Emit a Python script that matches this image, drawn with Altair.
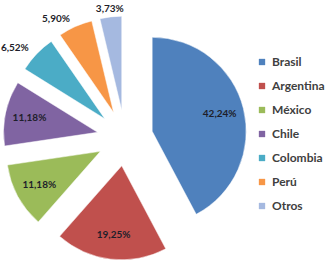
import math
import altair as alt
import pandas as pd

paises = ["Brasil", "Argentina", "México", "Chile", "Colombia", "Perú", "Otros"]
porcentajes = [42.24, 19.25, 11.18, 11.18, 6.52, 5.90, 3.73]
colores = ["#4F81BD", "#C0504D", "#9BBB59", "#8064A2", "#4BACC6", "#F79646", "#A5B9E0"]

df = pd.DataFrame({"pais": paises, "pct": porcentajes, "orden": list(range(len(paises)))})

CX, CY, D, R = 125, 138, 28, 94
FONT = "Lato"

base = alt.Chart(df).transform_window(
    end="sum(pct)", sort=[alt.SortField("orden")], frame=[None, 0]
).transform_calculate(
    start="datum.end - datum.pct",
).transform_calculate(
    mid="(datum.start + datum.end) / 200 * 2 * PI",
).transform_calculate(
    cx=f"{CX} + {D} * sin(datum.mid)",
    cy=f"{CY} - {D} * cos(datum.mid)",
    lr=f"datum.pct < 10 ? {R + 8} : {R * 0.74}",
    shift="datum.pct < 10 && sin(datum.mid) < -0.3 ? -16 : 0",
    label="replace(format(datum.pct, '.2f'), '.', ',') + '%'",
).transform_calculate(
    lx="datum.cx + datum.lr * sin(datum.mid) + datum.shift",
    ly="datum.cy - datum.lr * cos(datum.mid)",
)

arcs = base.mark_arc(outerRadius=R, stroke="white", strokeWidth=0.5).encode(
    theta=alt.Theta("start:Q", scale=alt.Scale(domain=[0, 100], range=[0, 2 * math.pi]), stack=None),
    theta2="end:Q",
    x=alt.X("cx:Q", scale=None),
    y=alt.Y("cy:Q", scale=None),
    color=alt.Color(
        "pais:N",
        scale=alt.Scale(domain=paises, range=colores),
        sort=paises,
        legend=alt.Legend(
            title=None,
            orient="none",
            legendX=256,
            legendY=56,
            symbolType="square",
            symbolSize=40,
            symbolStrokeWidth=0,
            labelFont=FONT,
            labelFontSize=12,
            labelFontWeight="bold",
            labelColor="#404040",
            rowPadding=12,
            labelOffset=4,
        ),
    ),
    order=alt.Order("orden:Q"),
)

labels = base.mark_text(font=FONT, fontSize=10, fontWeight="bold", color="#1E1E2A").encode(
    x=alt.X("lx:Q", scale=None),
    y=alt.Y("ly:Q", scale=None),
    text="label:N",
)

chart = alt.layer(arcs, labels).properties(
    width=328, height=263, padding=0, autosize=alt.AutoSizeParams(type="none"),
    background="white",
).configure_view(stroke=None)

chart.save("out.html", embed_options={"renderer": "svg", "actions": False})
